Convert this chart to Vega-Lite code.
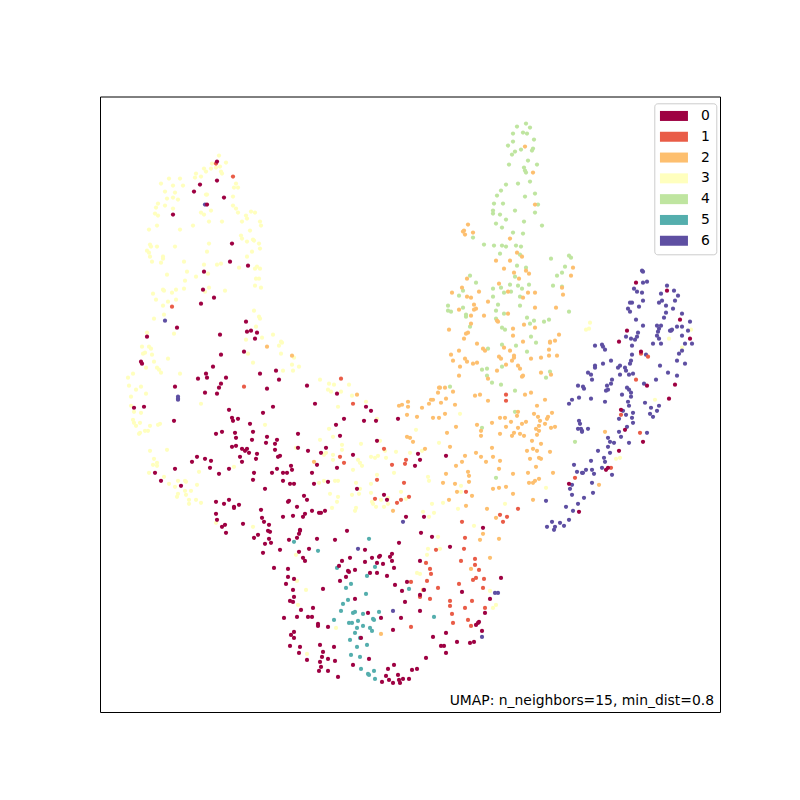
{"$schema":"https://vega.github.io/schema/vega-lite/v6.json","width":620,"height":615.5,"padding":{"left":100,"top":96.5,"right":80,"bottom":88},"autosize":{"type":"none"},"background":"white","config":{"view":{"stroke":"#000","strokeWidth":1,"fill":"white"}},"layer":[{"data":{"values":[
{"x":119,"y":556,"c":3},{"x":126,"y":549,"c":3},{"x":112,"y":548,"c":3},{"x":104,"y":543,"c":3},{"x":116,"y":544,"c":3},{"x":120,"y":545,"c":3},{"x":111,"y":543,"c":3},{"x":106,"y":540,"c":3},{"x":121,"y":540,"c":3},{"x":122,"y":538,"c":3},{"x":96,"y":538,"c":3},{"x":101,"y":535,"c":3},{"x":95,"y":534,"c":3},{"x":69,"y":533,"c":3},{"x":80,"y":533,"c":3},{"x":61,"y":528,"c":3},{"x":73,"y":526,"c":3},{"x":83,"y":526,"c":3},{"x":136,"y":528,"c":3},{"x":134,"y":524,"c":3},{"x":138,"y":524,"c":3},{"x":65,"y":520,"c":3},{"x":75,"y":519,"c":3},{"x":106,"y":517,"c":3},{"x":107,"y":517,"c":3},{"x":133,"y":515,"c":3},{"x":67,"y":513,"c":3},{"x":73,"y":514,"c":3},{"x":78,"y":512,"c":3},{"x":58,"y":508,"c":3},{"x":56,"y":504,"c":3},{"x":65,"y":506,"c":3},{"x":133,"y":506,"c":3},{"x":136,"y":503,"c":3},{"x":73,"y":503,"c":3},{"x":111,"y":501,"c":3},{"x":101,"y":499,"c":3},{"x":104,"y":497,"c":3},{"x":138,"y":499,"c":3},{"x":55,"y":498,"c":3},{"x":58,"y":496,"c":3},{"x":146,"y":496,"c":3},{"x":151,"y":500,"c":3},{"x":155,"y":499,"c":3},{"x":147,"y":493,"c":3},{"x":109,"y":490,"c":3},{"x":122,"y":490,"c":3},{"x":142,"y":490,"c":3},{"x":160,"y":490,"c":3},{"x":161,"y":486,"c":3},{"x":57,"y":486,"c":3},{"x":93,"y":486,"c":3},{"x":49,"y":482,"c":3},{"x":80,"y":482,"c":3},{"x":150,"y":481,"c":3},{"x":141,"y":476,"c":3},{"x":142,"y":473,"c":3},{"x":153,"y":472,"c":3},{"x":154,"y":471,"c":3},{"x":147,"y":470,"c":3},{"x":159,"y":468,"c":3},{"x":109,"y":468,"c":3},{"x":50,"y":467,"c":3},{"x":51,"y":465,"c":3},{"x":57,"y":465,"c":3},{"x":75,"y":465,"c":3},{"x":160,"y":463,"c":3},{"x":47,"y":461,"c":3},{"x":49,"y":459,"c":3},{"x":107,"y":460,"c":3},{"x":152,"y":460,"c":3},{"x":50,"y":455,"c":3},{"x":63,"y":455,"c":3},{"x":63,"y":453,"c":3},{"x":147,"y":455,"c":3},{"x":52,"y":450,"c":3},{"x":61,"y":449,"c":3},{"x":84,"y":450,"c":3},{"x":117,"y":447,"c":3},{"x":121,"y":448,"c":3},{"x":104,"y":447,"c":3},{"x":139,"y":444,"c":3},{"x":157,"y":445,"c":3},{"x":155,"y":443,"c":3},{"x":160,"y":443,"c":3},{"x":87,"y":440,"c":3},{"x":108,"y":438,"c":3},{"x":67,"y":437,"c":3},{"x":96,"y":435,"c":3},{"x":156,"y":433,"c":3},{"x":159,"y":433,"c":3},{"x":85,"y":431,"c":3},{"x":155,"y":426,"c":3},{"x":109,"y":424,"c":3},{"x":161,"y":424,"c":3},{"x":63,"y":422,"c":3},{"x":64,"y":421,"c":3},{"x":76,"y":422,"c":3},{"x":84,"y":423,"c":3},{"x":105,"y":420,"c":3},{"x":125,"y":421,"c":3},{"x":53,"y":418,"c":3},{"x":72,"y":419,"c":3},{"x":56,"y":412,"c":3},{"x":68,"y":410,"c":3},{"x":76,"y":412,"c":3},{"x":63,"y":406,"c":3},{"x":154,"y":401,"c":3},{"x":64,"y":397,"c":3},{"x":159,"y":395,"c":3},{"x":160,"y":393,"c":3},{"x":54,"y":393,"c":3},{"x":156,"y":385,"c":3},{"x":47,"y":379,"c":3},{"x":74,"y":378,"c":3},{"x":173,"y":377,"c":3},{"x":162,"y":374,"c":3},{"x":146,"y":372,"c":3},
{"x":42,"y":365,"c":3},{"x":49,"y":365,"c":3},{"x":51,"y":363,"c":3},{"x":43,"y":358,"c":3},{"x":45,"y":359,"c":3},{"x":52,"y":357,"c":3},{"x":68,"y":353,"c":3},{"x":54,"y":350,"c":3},{"x":46,"y":344,"c":3},{"x":57,"y":344,"c":3},{"x":59,"y":342,"c":3},{"x":61,"y":339,"c":3},{"x":80,"y":338,"c":3},{"x":33,"y":338,"c":3},{"x":28,"y":334,"c":3},{"x":29,"y":326,"c":3},{"x":41,"y":325,"c":3},{"x":36,"y":322,"c":3},{"x":46,"y":318,"c":3},{"x":31,"y":315,"c":3},{"x":101,"y":308,"c":3},{"x":31,"y":306,"c":3},{"x":34,"y":300,"c":3},{"x":41,"y":299,"c":3},{"x":33,"y":292,"c":3},{"x":34,"y":289,"c":3},{"x":40,"y":289,"c":3},{"x":36,"y":286,"c":3},{"x":50,"y":286,"c":3},{"x":58,"y":287,"c":3},{"x":60,"y":288,"c":3},{"x":45,"y":281,"c":3},{"x":48,"y":281,"c":3},{"x":39,"y":278,"c":3},{"x":40,"y":279,"c":3},{"x":50,"y":261,"c":3},{"x":67,"y":262,"c":3},{"x":54,"y":253,"c":3},{"x":53,"y":247,"c":3},{"x":57,"y":249,"c":3},{"x":57,"y":246,"c":3},{"x":134,"y":245,"c":3},{"x":49,"y":239,"c":3},{"x":99,"y":240,"c":3},{"x":64,"y":235,"c":3},{"x":78,"y":231,"c":3},{"x":85,"y":231,"c":3},{"x":86,"y":230,"c":3},{"x":69,"y":228,"c":3},{"x":97,"y":227,"c":3},{"x":75,"y":225,"c":3},{"x":91,"y":221,"c":3},{"x":85,"y":221,"c":3},{"x":78,"y":218,"c":3},{"x":86,"y":217,"c":3},{"x":77,"y":215,"c":3},{"x":89,"y":212,"c":3},{"x":96,"y":212,"c":3},{"x":89,"y":208,"c":3},{"x":101,"y":209,"c":3},{"x":116,"y":189,"c":3},{"x":153,"y":185,"c":3},{"x":165,"y":287,"c":3},{"x":196,"y":264,"c":3},{"x":179,"y":366,"c":3},{"x":181,"y":370,"c":3},{"x":182,"y":369,"c":3},{"x":181,"y":358,"c":3},{"x":194,"y":354,"c":3},{"x":148,"y":358,"c":3},{"x":153,"y":349,"c":3},{"x":192,"y":347,"c":3},{"x":199,"y":345,"c":3},{"x":183,"y":341,"c":3},{"x":193,"y":341,"c":3},
{"x":255,"y":201,"c":3},{"x":196,"y":157,"c":3},{"x":197,"y":131,"c":3},{"x":206,"y":122,"c":3},{"x":198,"y":107,"c":3},{"x":236,"y":84,"c":3},{"x":207,"y":58,"c":3},{"x":323,"y":200,"c":3},{"x":329,"y":195,"c":3},{"x":334,"y":199,"c":3},{"x":374,"y":186,"c":3},{"x":338,"y":175,"c":3},{"x":328,"y":163,"c":3},{"x":340,"y":163,"c":3},{"x":327,"y":157,"c":3},{"x":317,"y":139,"c":3},{"x":320,"y":138,"c":3},{"x":390,"y":121,"c":3},{"x":396,"y":107,"c":3},{"x":393,"y":104,"c":3},
{"x":220,"y":332,"c":3},{"x":229,"y":328,"c":3},{"x":234,"y":327,"c":3},{"x":228,"y":322,"c":3},{"x":231,"y":320,"c":3},{"x":241,"y":320,"c":3},{"x":249,"y":327,"c":3},{"x":252,"y":316,"c":3},{"x":266,"y":310,"c":3},{"x":238,"y":305,"c":3},{"x":277,"y":293,"c":3},{"x":229,"y":283,"c":3},{"x":233,"y":275,"c":3},{"x":316,"y":282,"c":3},{"x":220,"y":272,"c":3},{"x":242,"y":267,"c":3},{"x":261,"y":268,"c":3},{"x":280,"y":271,"c":3},{"x":242,"y":262,"c":3},{"x":226,"y":259,"c":3},{"x":224,"y":257,"c":3},{"x":233,"y":257,"c":3},{"x":233,"y":252,"c":3},{"x":258,"y":252,"c":3},{"x":260,"y":249,"c":3},{"x":262,"y":246,"c":3},{"x":271,"y":255,"c":3},{"x":275,"y":254,"c":3},{"x":278,"y":256,"c":3},{"x":286,"y":254,"c":3},{"x":296,"y":260,"c":3},{"x":310,"y":259,"c":3},{"x":285,"y":261,"c":3},{"x":322,"y":261,"c":3},{"x":339,"y":269,"c":3},{"x":253,"y":242,"c":3},{"x":294,"y":239,"c":3},{"x":277,"y":237,"c":3},{"x":328,"y":235,"c":3},{"x":329,"y":231,"c":3},{"x":224,"y":231,"c":3},{"x":219,"y":229,"c":3},{"x":235,"y":231,"c":3},{"x":238,"y":231,"c":3},{"x":256,"y":229,"c":3},{"x":271,"y":228,"c":3},{"x":260,"y":223,"c":3},{"x":259,"y":218,"c":3},{"x":252,"y":217,"c":3},{"x":230,"y":218,"c":3},{"x":238,"y":215,"c":3},{"x":237,"y":210,"c":3},{"x":271,"y":219,"c":3},{"x":301,"y":220,"c":3},{"x":288,"y":214,"c":3},{"x":272,"y":210,"c":3},{"x":281,"y":212,"c":3},{"x":273,"y":208,"c":3},{"x":288,"y":208,"c":3},{"x":276,"y":205,"c":3},{"x":284,"y":205,"c":3},{"x":306,"y":213,"c":3},{"x":332,"y":208,"c":3},{"x":256,"y":204,"c":3},{"x":232,"y":204,"c":3},
{"x":360,"y":298,"c":3},{"x":361,"y":226,"c":3},{"x":361,"y":220,"c":3},{"x":343,"y":209,"c":3},{"x":358,"y":203,"c":3},{"x":405,"y":208,"c":3},{"x":446,"y":224,"c":3},{"x":490,"y":389,"c":3},{"x":486,"y":382,"c":3},{"x":489,"y":383,"c":3},{"x":591,"y":382,"c":3},{"x":569,"y":373,"c":3},{"x":582,"y":364,"c":3},{"x":555,"y":312,"c":3},{"x":516,"y":253,"c":3},{"x":520,"y":254,"c":3},
{"x":426,"y":588,"c":4},{"x":417,"y":585,"c":4},{"x":430,"y":584,"c":4},{"x":423,"y":579,"c":4},{"x":427,"y":578,"c":4},{"x":413,"y":578,"c":4},{"x":434,"y":572,"c":4},{"x":413,"y":570,"c":4},{"x":408,"y":566,"c":4},{"x":421,"y":562,"c":4},{"x":415,"y":560,"c":4},{"x":433,"y":563,"c":4},{"x":432,"y":561,"c":4},{"x":412,"y":557,"c":4},{"x":428,"y":551,"c":4},{"x":409,"y":547,"c":4},{"x":437,"y":547,"c":4},{"x":424,"y":544,"c":4},{"x":425,"y":541,"c":4},{"x":426,"y":539,"c":4},{"x":430,"y":530,"c":4},{"x":418,"y":528,"c":4},{"x":406,"y":527,"c":4},{"x":401,"y":521,"c":4},{"x":435,"y":518,"c":4},{"x":397,"y":516,"c":4},{"x":425,"y":515,"c":4},{"x":394,"y":508,"c":4},{"x":403,"y":508,"c":4},{"x":438,"y":507,"c":4},{"x":393,"y":501,"c":4},{"x":393,"y":498,"c":4},{"x":415,"y":501,"c":4},{"x":435,"y":499,"c":4},{"x":400,"y":497,"c":4},{"x":406,"y":492,"c":4},{"x":424,"y":490,"c":4},{"x":396,"y":488,"c":4},{"x":402,"y":484,"c":4},{"x":442,"y":486,"c":4},{"x":413,"y":479,"c":4},{"x":423,"y":478,"c":4},{"x":373,"y":474,"c":4},{"x":384,"y":467,"c":4},{"x":394,"y":466,"c":4},{"x":402,"y":466,"c":4},{"x":406,"y":465,"c":4},{"x":416,"y":466,"c":4},{"x":421,"y":465,"c":4},{"x":400,"y":458,"c":4},{"x":420,"y":457,"c":4},{"x":451,"y":453,"c":4},{"x":469,"y":456,"c":4},{"x":471,"y":454,"c":4},{"x":417,"y":446,"c":4},{"x":465,"y":445,"c":4},{"x":426,"y":444,"c":4},{"x":462,"y":439,"c":4},{"x":370,"y":436,"c":4},{"x":415,"y":435,"c":4},{"x":457,"y":436,"c":4},{"x":376,"y":429,"c":4},{"x":410,"y":427,"c":4},{"x":418,"y":426,"c":4},{"x":429,"y":427,"c":4},{"x":453,"y":426,"c":4},{"x":462,"y":425,"c":4},{"x":393,"y":423,"c":4},{"x":401,"y":424,"c":4},{"x":363,"y":421,"c":4},{"x":404,"y":419,"c":4},{"x":411,"y":420,"c":4},{"x":422,"y":423,"c":4},{"x":359,"y":416,"c":4},{"x":393,"y":415,"c":4},{"x":420,"y":415,"c":4},
{"x":348,"y":406,"c":4},{"x":363,"y":404,"c":4},{"x":398,"y":407,"c":4},{"x":420,"y":406,"c":4},{"x":348,"y":401,"c":4},{"x":351,"y":400,"c":4},{"x":396,"y":401,"c":4},{"x":366,"y":397,"c":4},{"x":366,"y":395,"c":4},{"x":404,"y":398,"c":4},{"x":427,"y":394,"c":4},{"x":469,"y":400,"c":4},{"x":396,"y":393,"c":4},{"x":434,"y":391,"c":4},{"x":430,"y":388,"c":4},{"x":444,"y":390,"c":4},{"x":449,"y":392,"c":4},{"x":370,"y":385,"c":4},{"x":402,"y":384,"c":4},{"x":405,"y":382,"c":4},{"x":431,"y":375,"c":4},{"x":436,"y":369,"c":4},{"x":402,"y":367,"c":4},{"x":416,"y":366,"c":4},{"x":388,"y":363,"c":4},{"x":427,"y":360,"c":4},{"x":402,"y":345,"c":4},{"x":382,"y":342,"c":4},{"x":387,"y":343,"c":4},{"x":450,"y":340,"c":4},{"x":446,"y":334,"c":4},{"x":387,"y":336,"c":4},{"x":392,"y":329,"c":4},{"x":401,"y":327,"c":4},{"x":350,"y":325,"c":4},{"x":415,"y":321,"c":4},{"x":415,"y":300,"c":4},{"x":382,"y":284,"c":4},{"x":475,"y":270,"c":4},{"x":396,"y":234,"c":4},
{"x":425,"y":565,"c":2},{"x":433,"y":539,"c":2},{"x":435,"y":507,"c":2},{"x":368,"y":487,"c":2},{"x":364,"y":481,"c":2},{"x":363,"y":480,"c":2},{"x":373,"y":479,"c":2},{"x":365,"y":477,"c":2},{"x":410,"y":473,"c":2},{"x":417,"y":459,"c":2},{"x":422,"y":455,"c":2},{"x":396,"y":451,"c":2},{"x":410,"y":451,"c":2},{"x":404,"y":443,"c":2},{"x":414,"y":439,"c":2},{"x":426,"y":441,"c":2},{"x":429,"y":438,"c":2},{"x":473,"y":444,"c":2},{"x":471,"y":436,"c":2},{"x":419,"y":433,"c":2},{"x":367,"y":433,"c":2},{"x":399,"y":428,"c":2},{"x":362,"y":424,"c":2},{"x":462,"y":424,"c":2},{"x":352,"y":419,"c":2},{"x":379,"y":420,"c":2},{"x":408,"y":420,"c":2},{"x":428,"y":419,"c":2},{"x":435,"y":419,"c":2},{"x":463,"y":417,"c":2},{"x":367,"y":415,"c":2},{"x":371,"y":414,"c":2},{"x":423,"y":414,"c":2},
{"x":374,"y":407,"c":2},{"x":388,"y":410,"c":2},{"x":376,"y":403,"c":2},{"x":374,"y":402,"c":2},{"x":359,"y":402,"c":2},{"x":435,"y":404,"c":2},{"x":456,"y":404,"c":2},{"x":371,"y":396,"c":2},{"x":384,"y":396,"c":2},{"x":408,"y":398,"c":2},{"x":397,"y":391,"c":2},{"x":398,"y":390,"c":2},{"x":371,"y":388,"c":2},{"x":349,"y":382,"c":2},{"x":424,"y":387,"c":2},{"x":435,"y":384,"c":2},{"x":413,"y":383,"c":2},{"x":413,"y":376,"c":2},{"x":459,"y":377,"c":2},{"x":368,"y":379,"c":2},{"x":366,"y":378,"c":2},{"x":364,"y":373,"c":2},{"x":423,"y":370,"c":2},{"x":450,"y":370,"c":2},{"x":455,"y":371,"c":2},{"x":450,"y":369,"c":2},{"x":377,"y":368,"c":2},{"x":404,"y":364,"c":2},{"x":383,"y":363,"c":2},{"x":385,"y":361,"c":2},{"x":410,"y":361,"c":2},{"x":359,"y":361,"c":2},{"x":449,"y":362,"c":2},{"x":351,"y":357,"c":2},{"x":365,"y":353,"c":2},{"x":353,"y":351,"c":2},{"x":367,"y":350,"c":2},{"x":373,"y":348,"c":2},{"x":377,"y":349,"c":2},{"x":399,"y":355,"c":2},{"x":401,"y":353,"c":2},{"x":414,"y":356,"c":2},{"x":414,"y":354,"c":2},{"x":412,"y":351,"c":2},{"x":431,"y":353,"c":2},{"x":441,"y":354,"c":2},{"x":449,"y":356,"c":2},{"x":457,"y":356,"c":2},{"x":406,"y":347,"c":2},{"x":360,"y":345,"c":2},{"x":418,"y":346,"c":2},{"x":420,"y":343,"c":2},{"x":397,"y":341,"c":2},{"x":441,"y":339,"c":2},{"x":451,"y":337,"c":2},{"x":423,"y":336,"c":2},{"x":422,"y":335,"c":2},{"x":359,"y":336,"c":2},{"x":388,"y":333,"c":2},{"x":353,"y":320,"c":2},{"x":345,"y":324,"c":2},{"x":340,"y":324,"c":2},{"x":375,"y":316,"c":2},{"x":380,"y":317,"c":2},{"x":425,"y":317,"c":2},{"x":431,"y":319,"c":2},{"x":445,"y":312,"c":2},{"x":388,"y":311,"c":2},{"x":346,"y":313,"c":2},{"x":341,"y":309,"c":2},{"x":355,"y":307,"c":2},{"x":437,"y":306,"c":2},{"x":345,"y":298,"c":2},{"x":418,"y":300,"c":2},{"x":417,"y":296,"c":2},{"x":434,"y":298,"c":2},{"x":438,"y":295,"c":2},{"x":452,"y":299,"c":2},{"x":448,"y":295,"c":2},{"x":447,"y":293,"c":2},{"x":400,"y":294,"c":2},{"x":405,"y":294,"c":2},{"x":411,"y":290,"c":2},{"x":426,"y":290,"c":2},{"x":422,"y":288,"c":2},{"x":440,"y":291,"c":2},{"x":445,"y":288,"c":2},{"x":392,"y":289,"c":2},{"x":377,"y":287,"c":2},{"x":356,"y":285,"c":2},{"x":418,"y":284,"c":2},{"x":439,"y":286,"c":2},{"x":455,"y":285,"c":2},{"x":451,"y":284,"c":2},{"x":436,"y":283,"c":2},{"x":439,"y":281,"c":2},{"x":437,"y":277,"c":2},{"x":381,"y":281,"c":2},{"x":406,"y":285,"c":2},{"x":414,"y":279,"c":2},{"x":420,"y":278,"c":2},{"x":424,"y":276,"c":2},{"x":412,"y":276,"c":2},{"x":400,"y":278,"c":2},{"x":347,"y":279,"c":2},{"x":381,"y":276,"c":2},{"x":432,"y":271,"c":2},{"x":441,"y":268,"c":2},{"x":350,"y":265,"c":2},{"x":392,"y":264,"c":2},{"x":437,"y":261,"c":2},{"x":433,"y":263,"c":2},{"x":427,"y":261,"c":2},{"x":376,"y":259,"c":2},{"x":450,"y":260,"c":2},{"x":365,"y":256,"c":2},{"x":381,"y":255,"c":2},{"x":393,"y":255,"c":2},{"x":430,"y":253,"c":2},{"x":439,"y":254,"c":2},{"x":441,"y":253,"c":2},{"x":386,"y":250,"c":2},{"x":400,"y":251,"c":2},{"x":362,"y":250,"c":2},{"x":356,"y":246,"c":2},{"x":436,"y":245,"c":2},{"x":399,"y":243,"c":2},{"x":368,"y":240,"c":2},{"x":369,"y":236,"c":2},{"x":453,"y":239,"c":2},{"x":428,"y":239,"c":2},{"x":413,"y":238,"c":2},{"x":346,"y":238,"c":2},{"x":369,"y":230,"c":2},{"x":429,"y":229,"c":2},{"x":433,"y":229,"c":2},{"x":435,"y":231,"c":2},{"x":439,"y":233,"c":2},{"x":343,"y":229,"c":2},{"x":355,"y":228,"c":2},{"x":406,"y":225,"c":2},{"x":399,"y":224,"c":2},{"x":393,"y":223,"c":2},{"x":357,"y":220,"c":2},{"x":372,"y":216,"c":2},{"x":413,"y":218,"c":2},{"x":433,"y":212,"c":2},{"x":349,"y":212,"c":2},{"x":366,"y":206,"c":2},{"x":387,"y":203,"c":2},
{"x":257,"y":317,"c":2},{"x":214,"y":250,"c":2},{"x":339,"y":324,"c":2},{"x":338,"y":319,"c":2},{"x":329,"y":308,"c":2},{"x":331,"y":312,"c":2},{"x":333,"y":312,"c":2},{"x":302,"y":307,"c":2},{"x":299,"y":306,"c":2},{"x":308,"y":310,"c":2},{"x":308,"y":305,"c":2},{"x":322,"y":304,"c":2},{"x":307,"y":297,"c":2},{"x":317,"y":295,"c":2},{"x":333,"y":294,"c":2},{"x":339,"y":294,"c":2},{"x":307,"y":275,"c":2},{"x":310,"y":274,"c":2},{"x":313,"y":270,"c":2},{"x":325,"y":263,"c":2},{"x":167,"y":365,"c":2},{"x":192,"y":356,"c":2},{"x":281,"y":78,"c":2},{"x":293,"y":201,"c":2},{"x":396,"y":194,"c":2},{"x":383,"y":178,"c":2},{"x":380,"y":172,"c":2},{"x":399,"y":173,"c":2},{"x":390,"y":154,"c":2},{"x":371,"y":143,"c":2},{"x":323,"y":122,"c":2},{"x":505,"y":280,"c":2},{"x":499,"y":227,"c":2},
{"x":542,"y":441,"c":6},{"x":543,"y":440,"c":6},{"x":547,"y":430,"c":6},{"x":543,"y":429,"c":6},{"x":534,"y":423,"c":6},{"x":537,"y":420,"c":6},{"x":542,"y":419,"c":6},{"x":567,"y":426,"c":6},{"x":574,"y":421,"c":6},{"x":561,"y":418,"c":6},{"x":578,"y":416,"c":6},{"x":543,"y":411,"c":6},{"x":562,"y":411,"c":6},{"x":559,"y":409,"c":6},{"x":575,"y":411,"c":6},{"x":532,"y":409,"c":6},{"x":530,"y":409,"c":6},{"x":566,"y":406,"c":6},{"x":539,"y":405,"c":6},{"x":528,"y":403,"c":6},{"x":530,"y":400,"c":6},{"x":573,"y":403,"c":6},{"x":566,"y":399,"c":6},{"x":582,"y":398,"c":6},{"x":564,"y":394,"c":6},{"x":536,"y":392,"c":6},{"x":590,"y":390,"c":6},{"x":543,"y":386,"c":6},{"x":557,"y":386,"c":6},{"x":561,"y":386,"c":6},{"x":577,"y":385,"c":6},{"x":582,"y":385,"c":6},{"x":559,"y":383,"c":6},{"x":558,"y":380,"c":6},{"x":570,"y":381,"c":6},{"x":571,"y":381,"c":6},{"x":572,"y":382,"c":6},{"x":588,"y":381,"c":6},{"x":538,"y":379,"c":6},{"x":582,"y":376,"c":6},{"x":537,"y":375,"c":6},{"x":526,"y":375,"c":6},{"x":531,"y":373,"c":6},{"x":535,"y":372,"c":6},{"x":557,"y":376,"c":6},{"x":559,"y":373,"c":6},{"x":585,"y":368,"c":6},{"x":553,"y":368,"c":6},{"x":561,"y":368,"c":6},{"x":592,"y":368,"c":6},{"x":495,"y":366,"c":6},{"x":502,"y":367,"c":6},{"x":503,"y":365,"c":6},{"x":505,"y":362,"c":6},{"x":532,"y":366,"c":6},{"x":582,"y":361,"c":6},{"x":579,"y":358,"c":6},{"x":532,"y":357,"c":6},{"x":546,"y":357,"c":6},{"x":531,"y":351,"c":6},{"x":511,"y":351,"c":6},{"x":577,"y":351,"c":6},{"x":503,"y":348,"c":6},{"x":495,"y":346,"c":6},{"x":495,"y":344,"c":6},{"x":520,"y":346,"c":6},{"x":518,"y":344,"c":6},{"x":530,"y":348,"c":6},{"x":525,"y":344,"c":6},{"x":526,"y":341,"c":6},{"x":560,"y":346,"c":6},{"x":585,"y":348,"c":6},{"x":488,"y":339,"c":6},{"x":491,"y":337,"c":6},{"x":529,"y":337,"c":6},{"x":533,"y":338,"c":6},{"x":520,"y":337,"c":6},{"x":568,"y":339,"c":6},{"x":577,"y":336,"c":6},{"x":512,"y":332,"c":6},{"x":492,"y":332,"c":6},{"x":556,"y":332,"c":6},{"x":511,"y":328,"c":6},{"x":544,"y":328,"c":6},{"x":478,"y":326,"c":6},{"x":483,"y":325,"c":6},{"x":484,"y":323,"c":6},{"x":507,"y":326,"c":6},{"x":506,"y":321,"c":6},{"x":508,"y":322,"c":6},{"x":527,"y":324,"c":6},{"x":529,"y":322,"c":6},{"x":531,"y":319,"c":6},{"x":522,"y":317,"c":6},{"x":531,"y":315,"c":6},{"x":472,"y":312,"c":6},{"x":479,"y":314,"c":6},{"x":491,"y":313,"c":6},{"x":505,"y":310,"c":6},{"x":469,"y":308,"c":6},{"x":528,"y":310,"c":6},{"x":529,"y":306,"c":6},{"x":545,"y":309,"c":6},{"x":559,"y":306,"c":6},{"x":551,"y":304,"c":6},{"x":557,"y":301,"c":6},{"x":523,"y":301,"c":6},{"x":526,"y":297,"c":6},{"x":533,"y":299,"c":6},{"x":550,"y":298,"c":6},{"x":553,"y":295,"c":6},{"x":519,"y":293,"c":6},{"x":532,"y":294,"c":6},{"x":479,"y":291,"c":6},{"x":480,"y":288,"c":6},{"x":533,"y":289,"c":6},{"x":478,"y":283,"c":6},{"x":481,"y":283,"c":6},{"x":488,"y":283,"c":6},{"x":482,"y":281,"c":6},{"x":482,"y":280,"c":6},{"x":527,"y":285,"c":6},{"x":519,"y":280,"c":6},{"x":547,"y":279,"c":6},{"x":521,"y":275,"c":6},{"x":508,"y":274,"c":6},{"x":510,"y":270,"c":6},{"x":514,"y":269,"c":6},{"x":529,"y":269,"c":6},{"x":508,"y":265,"c":6},{"x":498,"y":261,"c":6},{"x":510,"y":259,"c":6},{"x":504,"y":254,"c":6},{"x":505,"y":250,"c":6},{"x":491,"y":251,"c":6},{"x":474,"y":247,"c":6},{"x":502,"y":244,"c":6},{"x":492,"y":242,"c":6},{"x":486,"y":242,"c":6},{"x":477,"y":240,"c":6},{"x":482,"y":239,"c":6},{"x":483,"y":239,"c":6},{"x":494,"y":238,"c":6},{"x":512,"y":237,"c":6},{"x":492,"y":229,"c":6},{"x":472,"y":227,"c":6},{"x":470,"y":223,"c":6},{"x":493,"y":219,"c":6},{"x":472,"y":217,"c":6},{"x":484,"y":214,"c":6},{"x":446,"y":211,"c":6},{"x":478,"y":208,"c":6},{"x":466,"y":205,"c":6},{"x":473,"y":201,"c":6},{"x":469,"y":192,"c":6},{"x":452,"y":190,"c":6},{"x":460,"y":189,"c":6},{"x":447,"y":185,"c":6},{"x":455,"y":185,"c":6},{"x":454,"y":182,"c":6},{"x":464,"y":186,"c":6},
{"x":105,"y":507,"c":6},{"x":65,"y":391,"c":6},{"x":78,"y":315,"c":6},{"x":78,"y":313,"c":6},{"x":78,"y":312,"c":6},{"x":303,"y":190,"c":6},{"x":258,"y":163,"c":6},{"x":293,"y":101,"c":6},{"x":382,"y":75,"c":6},{"x":395,"y":119,"c":6},{"x":398,"y":119,"c":6},
{"x":269,"y":173,"c":5},{"x":194,"y":170,"c":5},{"x":218,"y":161,"c":5},{"x":275,"y":145,"c":5},{"x":237,"y":144,"c":5},{"x":267,"y":136,"c":5},{"x":251,"y":128,"c":5},{"x":246,"y":124,"c":5},{"x":266,"y":118,"c":5},{"x":309,"y":123,"c":5},{"x":248,"y":112,"c":5},{"x":243,"y":108,"c":5},{"x":241,"y":101,"c":5},{"x":253,"y":99,"c":5},{"x":255,"y":100,"c":5},{"x":263,"y":98,"c":5},{"x":279,"y":100,"c":5},{"x":273,"y":93,"c":5},{"x":274,"y":92,"c":5},{"x":234,"y":92,"c":5},{"x":258,"y":91,"c":5},{"x":249,"y":89,"c":5},{"x":252,"y":89,"c":5},{"x":263,"y":86,"c":5},{"x":257,"y":84,"c":5},{"x":270,"y":84,"c":5},{"x":272,"y":81,"c":5},{"x":255,"y":79,"c":5},{"x":260,"y":74,"c":5},{"x":250,"y":72,"c":5},{"x":267,"y":67,"c":5},{"x":257,"y":65,"c":5},{"x":251,"y":57,"c":5},{"x":260,"y":55,"c":5},{"x":261,"y":43,"c":5},{"x":274,"y":41,"c":5},{"x":268,"y":38,"c":5},{"x":269,"y":37,"c":5},{"x":275,"y":33,"c":5},{"x":334,"y":95,"c":5},
{"x":116,"y":548,"c":1},{"x":133,"y":535,"c":1},{"x":72,"y":405,"c":1},{"x":144,"y":325,"c":1},{"x":241,"y":333,"c":1},{"x":253,"y":308,"c":1},{"x":240,"y":255,"c":1},{"x":244,"y":249,"c":1},{"x":284,"y":263,"c":1},{"x":306,"y":252,"c":1},{"x":305,"y":248,"c":1},{"x":292,"y":247,"c":1},{"x":277,"y":232,"c":1},{"x":304,"y":229,"c":1},{"x":275,"y":213,"c":1},{"x":301,"y":212,"c":1},{"x":309,"y":215,"c":1},{"x":297,"y":209,"c":1},{"x":406,"y":317,"c":1},{"x":406,"y":311,"c":1},{"x":366,"y":220,"c":1},{"x":418,"y":203,"c":1},{"x":362,"y":190,"c":1},{"x":400,"y":197,"c":1},{"x":407,"y":195,"c":1},{"x":403,"y":190,"c":1},{"x":365,"y":174,"c":1},{"x":364,"y":163,"c":1},{"x":336,"y":162,"c":1},{"x":375,"y":153,"c":1},{"x":361,"y":151,"c":1},{"x":326,"y":149,"c":1},{"x":375,"y":147,"c":1},{"x":330,"y":143,"c":1},{"x":379,"y":142,"c":1},{"x":331,"y":138,"c":1},{"x":376,"y":134,"c":1},{"x":373,"y":132,"c":1},{"x":384,"y":133,"c":1},{"x":327,"y":131,"c":1},{"x":311,"y":130,"c":1},{"x":359,"y":128,"c":1},{"x":338,"y":124,"c":1},{"x":383,"y":124,"c":1},{"x":320,"y":115,"c":1},{"x":330,"y":113,"c":1},{"x":350,"y":111,"c":1},{"x":372,"y":111,"c":1},{"x":350,"y":106,"c":1},{"x":365,"y":104,"c":1},{"x":385,"y":104,"c":1},{"x":352,"y":98,"c":1},{"x":368,"y":92,"c":1},{"x":353,"y":89,"c":1},{"x":371,"y":86,"c":1},{"x":311,"y":85,"c":1},{"x":548,"y":355,"c":1},{"x":536,"y":332,"c":1},{"x":541,"y":358,"c":1},{"x":521,"y":297,"c":1},{"x":540,"y":279,"c":1},{"x":511,"y":244,"c":1},{"x":475,"y":234,"c":1},
{"x":117,"y":550,"c":0},{"x":100,"y":527,"c":0},{"x":117,"y":531,"c":0},{"x":94,"y":520,"c":0},{"x":124,"y":514,"c":0},{"x":107,"y":507,"c":0},{"x":73,"y":497,"c":0},{"x":132,"y":468,"c":0},{"x":130,"y":450,"c":0},{"x":148,"y":446,"c":0},{"x":104,"y":440,"c":0},{"x":103,"y":422,"c":0},{"x":114,"y":414,"c":0},{"x":101,"y":408,"c":0},{"x":146,"y":390,"c":0},{"x":77,"y":384,"c":0},{"x":147,"y":380,"c":0},{"x":151,"y":381,"c":0},{"x":157,"y":379,"c":0},{"x":120,"y":377,"c":0},{"x":47,"y":375,"c":0},{"x":155,"y":373,"c":0},
{"x":121,"y":357,"c":0},{"x":144,"y":360,"c":0},{"x":41,"y":350,"c":0},{"x":42,"y":348,"c":0},{"x":113,"y":345,"c":0},{"x":106,"y":338,"c":0},{"x":107,"y":334,"c":0},{"x":98,"y":333,"c":0},{"x":126,"y":334,"c":0},{"x":160,"y":338,"c":0},{"x":176,"y":341,"c":0},{"x":179,"y":332,"c":0},{"x":121,"y":328,"c":0},{"x":119,"y":324,"c":0},{"x":75,"y":325,"c":0},{"x":105,"y":319,"c":0},{"x":117,"y":318,"c":0},{"x":167,"y":323,"c":0},{"x":207,"y":326,"c":0},{"x":129,"y":302,"c":0},{"x":173,"y":305,"c":0},{"x":163,"y":299,"c":0},{"x":34,"y":304,"c":0},{"x":44,"y":305,"c":0},{"x":132,"y":294,"c":0},{"x":133,"y":291,"c":0},{"x":138,"y":293,"c":0},{"x":74,"y":291,"c":0},{"x":150,"y":288,"c":0},{"x":122,"y":280,"c":0},{"x":116,"y":278,"c":0},{"x":135,"y":279,"c":0},{"x":153,"y":280,"c":0},{"x":136,"y":274,"c":0},{"x":152,"y":272,"c":0},{"x":167,"y":275,"c":0},{"x":177,"y":272,"c":0},{"x":175,"y":268,"c":0},{"x":166,"y":269,"c":0},{"x":198,"y":278,"c":0},{"x":136,"y":266,"c":0},{"x":132,"y":265,"c":0},{"x":142,"y":263,"c":0},{"x":147,"y":263,"c":0},{"x":145,"y":261,"c":0},{"x":149,"y":259,"c":0},{"x":175,"y":262,"c":0},{"x":198,"y":264,"c":0},{"x":208,"y":261,"c":0},{"x":157,"y":258,"c":0},{"x":140,"y":255,"c":0},{"x":156,"y":253,"c":0},{"x":142,"y":250,"c":0},{"x":180,"y":256,"c":0},{"x":178,"y":255,"c":0},{"x":97,"y":255,"c":0},{"x":105,"y":253,"c":0},{"x":111,"y":251,"c":0},{"x":92,"y":250,"c":0},{"x":110,"y":244,"c":0},{"x":129,"y":243,"c":0},{"x":75,"y":243,"c":0},{"x":119,"y":238,"c":0},{"x":55,"y":239,"c":0},{"x":61,"y":231,"c":0},{"x":154,"y":239,"c":0},{"x":153,"y":232,"c":0},{"x":172,"y":239,"c":0},{"x":183,"y":239,"c":0},{"x":187,"y":239,"c":0},{"x":191,"y":246,"c":0},{"x":192,"y":242,"c":0},{"x":177,"y":243,"c":0},{"x":183,"y":231,"c":0},{"x":190,"y":228,"c":0},{"x":194,"y":228,"c":0},{"x":81,"y":226,"c":0},{"x":165,"y":223,"c":0},{"x":204,"y":216,"c":0},{"x":207,"y":212,"c":0},{"x":189,"y":211,"c":0},{"x":188,"y":210,"c":0},{"x":116,"y":210,"c":0},{"x":124,"y":208,"c":0},{"x":129,"y":212,"c":0},{"x":139,"y":207,"c":0},{"x":134,"y":205,"c":0},{"x":134,"y":204,"c":0},{"x":197,"y":205,"c":0},{"x":161,"y":202,"c":0},{"x":116,"y":198,"c":0},{"x":205,"y":198,"c":0},{"x":203,"y":195,"c":0},{"x":117,"y":192,"c":0},{"x":162,"y":194,"c":0},{"x":183,"y":195,"c":0},{"x":193,"y":196,"c":0},{"x":164,"y":190,"c":0},{"x":143,"y":188,"c":0},{"x":169,"y":187,"c":0},{"x":125,"y":187,"c":0},{"x":122,"y":185,"c":0},{"x":200,"y":182,"c":0},
{"x":247,"y":181,"c":0},{"x":217,"y":173,"c":0},{"x":235,"y":172,"c":0},{"x":299,"y":169,"c":0},{"x":265,"y":162,"c":0},{"x":209,"y":163,"c":0},{"x":292,"y":158,"c":0},{"x":290,"y":155,"c":0},{"x":280,"y":156,"c":0},{"x":279,"y":155,"c":0},{"x":272,"y":154,"c":0},{"x":250,"y":154,"c":0},{"x":242,"y":151,"c":0},{"x":265,"y":150,"c":0},{"x":277,"y":149,"c":0},{"x":292,"y":151,"c":0},{"x":283,"y":148,"c":0},{"x":239,"y":146,"c":0},{"x":294,"y":144,"c":0},{"x":248,"y":141,"c":0},{"x":249,"y":140,"c":0},{"x":255,"y":142,"c":0},{"x":270,"y":139,"c":0},{"x":277,"y":139,"c":0},{"x":246,"y":135,"c":0},{"x":287,"y":136,"c":0},{"x":240,"y":131,"c":0},{"x":295,"y":127,"c":0},{"x":307,"y":130,"c":0},{"x":223,"y":123,"c":0},{"x":302,"y":121,"c":0},{"x":255,"y":113,"c":0},{"x":305,"y":110,"c":0},{"x":213,"y":104,"c":0},{"x":268,"y":99,"c":0},{"x":281,"y":94,"c":0},{"x":301,"y":94,"c":0},{"x":218,"y":88,"c":0},{"x":218,"y":86,"c":0},{"x":228,"y":85,"c":0},{"x":293,"y":82,"c":0},{"x":261,"y":74,"c":0},{"x":220,"y":67,"c":0},{"x":234,"y":65,"c":0},{"x":223,"y":60,"c":0},{"x":222,"y":55,"c":0},{"x":228,"y":53,"c":0},{"x":235,"y":51,"c":0},{"x":220,"y":50,"c":0},{"x":221,"y":45,"c":0},{"x":219,"y":41,"c":0},{"x":228,"y":41,"c":0},{"x":269,"y":53,"c":0},{"x":253,"y":47,"c":0},{"x":238,"y":35,"c":0},{"x":294,"y":47,"c":0},{"x":288,"y":43,"c":0},{"x":286,"y":36,"c":0},{"x":298,"y":37,"c":0},{"x":289,"y":32,"c":0},{"x":282,"y":30,"c":0},{"x":293,"y":29,"c":0},{"x":299,"y":32,"c":0},{"x":300,"y":29,"c":0},{"x":303,"y":33,"c":0},{"x":309,"y":33,"c":0},{"x":212,"y":201,"c":0},{"x":219,"y":199,"c":0},{"x":221,"y":199,"c":0},{"x":225,"y":201,"c":0},{"x":306,"y":195,"c":0},
{"x":126,"y":179,"c":0},{"x":168,"y":181,"c":0},{"x":170,"y":180,"c":0},{"x":158,"y":177,"c":0},{"x":154,"y":174,"c":0},{"x":169,"y":173,"c":0},{"x":171,"y":169,"c":0},{"x":165,"y":168,"c":0},{"x":199,"y":178,"c":0},{"x":200,"y":181,"c":0},{"x":197,"y":174,"c":0},{"x":189,"y":172,"c":0},{"x":180,"y":162,"c":0},{"x":199,"y":160,"c":0},{"x":163,"y":159,"c":0},{"x":203,"y":154,"c":0},{"x":205,"y":151,"c":0},{"x":174,"y":144,"c":0},{"x":188,"y":143,"c":0},{"x":188,"y":135,"c":0},{"x":194,"y":133,"c":0},{"x":186,"y":128,"c":0},{"x":193,"y":122,"c":0},{"x":194,"y":115,"c":0},{"x":190,"y":111,"c":0},{"x":193,"y":110,"c":0},{"x":201,"y":102,"c":0},{"x":184,"y":94,"c":0},{"x":197,"y":95,"c":0},{"x":208,"y":95,"c":0},{"x":212,"y":95,"c":0},{"x":194,"y":80,"c":0},{"x":191,"y":77,"c":0},{"x":194,"y":74,"c":0},{"x":190,"y":66,"c":0},{"x":200,"y":65,"c":0},{"x":199,"y":59,"c":0},{"x":207,"y":52,"c":0},
{"x":383,"y":184,"c":0},{"x":324,"y":195,"c":0},{"x":321,"y":179,"c":0},{"x":332,"y":175,"c":0},{"x":350,"y":165,"c":0},{"x":320,"y":151,"c":0},{"x":401,"y":134,"c":0},{"x":324,"y":122,"c":0},{"x":320,"y":117,"c":0},{"x":362,"y":120,"c":0},{"x":390,"y":113,"c":0},{"x":320,"y":101,"c":0},{"x":385,"y":99,"c":0},{"x":379,"y":90,"c":0},{"x":378,"y":89,"c":0},{"x":376,"y":87,"c":0},{"x":382,"y":81,"c":0},{"x":346,"y":79,"c":0},{"x":333,"y":75,"c":0},{"x":374,"y":70,"c":0},{"x":370,"y":69,"c":0},{"x":357,"y":70,"c":0},{"x":344,"y":66,"c":0},{"x":341,"y":66,"c":0},{"x":346,"y":59,"c":0},{"x":326,"y":54,"c":0},{"x":317,"y":43,"c":0},{"x":312,"y":42,"c":0},
{"x":215,"y":308,"c":0},{"x":237,"y":318,"c":0},{"x":266,"y":305,"c":0},{"x":271,"y":301,"c":0},{"x":244,"y":293,"c":0},{"x":264,"y":291,"c":0},{"x":276,"y":291,"c":0},{"x":298,"y":293,"c":0},{"x":236,"y":287,"c":0},{"x":240,"y":276,"c":0},{"x":277,"y":271,"c":0},{"x":226,"y":264,"c":0},{"x":221,"y":259,"c":0},{"x":253,"y":257,"c":0},{"x":318,"y":258,"c":0},{"x":320,"y":252,"c":0},{"x":315,"y":246,"c":0},{"x":217,"y":247,"c":0},{"x":237,"y":244,"c":0},{"x":212,"y":239,"c":0},{"x":214,"y":228,"c":0},{"x":228,"y":230,"c":0},{"x":257,"y":223,"c":0},{"x":284,"y":217,"c":0},{"x":287,"y":212,"c":0},{"x":346,"y":256,"c":0},
{"x":536,"y":429,"c":0},{"x":567,"y":421,"c":0},{"x":580,"y":392,"c":0},{"x":527,"y":381,"c":0},{"x":519,"y":370,"c":0},{"x":590,"y":373,"c":0},{"x":541,"y":360,"c":0},{"x":547,"y":326,"c":0},{"x":575,"y":327,"c":0},{"x":569,"y":313,"c":0},{"x":521,"y":302,"c":0},{"x":525,"y":282,"c":0},{"x":543,"y":270,"c":0},{"x":519,"y":261,"c":0},{"x":508,"y":244,"c":0},{"x":506,"y":242,"c":0},{"x":469,"y":228,"c":0},{"x":479,"y":200,"c":0}
]},"mark":{"type":"circle","opacity":1},"encoding":{"x":{"field":"x","type":"quantitative","axis":null,"scale":{"domain":[0,620],"nice":false,"zero":false}},"y":{"field":"y","type":"quantitative","axis":null,"scale":{"domain":[0,615],"nice":false,"zero":false}},"color":{"field":"c","type":"nominal","scale":{"domain":[0,1,2,3,4,5,6],"range":["#9e0142","#e95c47","#fdbf6f","#ffffbe","#bfe5a0","#54aead","#5e4fa2"]},"legend":{"title":null,"orient":"none","legendX":554.3,"legendY":6.8,"symbolType":"M-1.4,-1H4.2V1H-1.4Z","symbolSize":100,"symbolStrokeWidth":0,"symbolOpacity":1,"labelOffset":27,"padding":5.7,"rowPadding":5.8,"labelFont":"DejaVu Sans","labelFontSize":13.9,"labelColor":"#000","fillColor":"rgba(255,255,255,0.8)","strokeColor":"#cccccc","cornerRadius":3}},"size":{"value":18}}},{"data":{"values":[{"x":614,"y":4,"t":"UMAP: n_neighbors=15, min_dist=0.8"}]},"mark":{"type":"text","align":"right","baseline":"bottom","font":"DejaVu Sans","fontSize":13.9,"color":"#000"},"encoding":{"x":{"field":"x","type":"quantitative","axis":null},"y":{"field":"y","type":"quantitative","axis":null},"text":{"field":"t","type":"nominal"}}}]}
